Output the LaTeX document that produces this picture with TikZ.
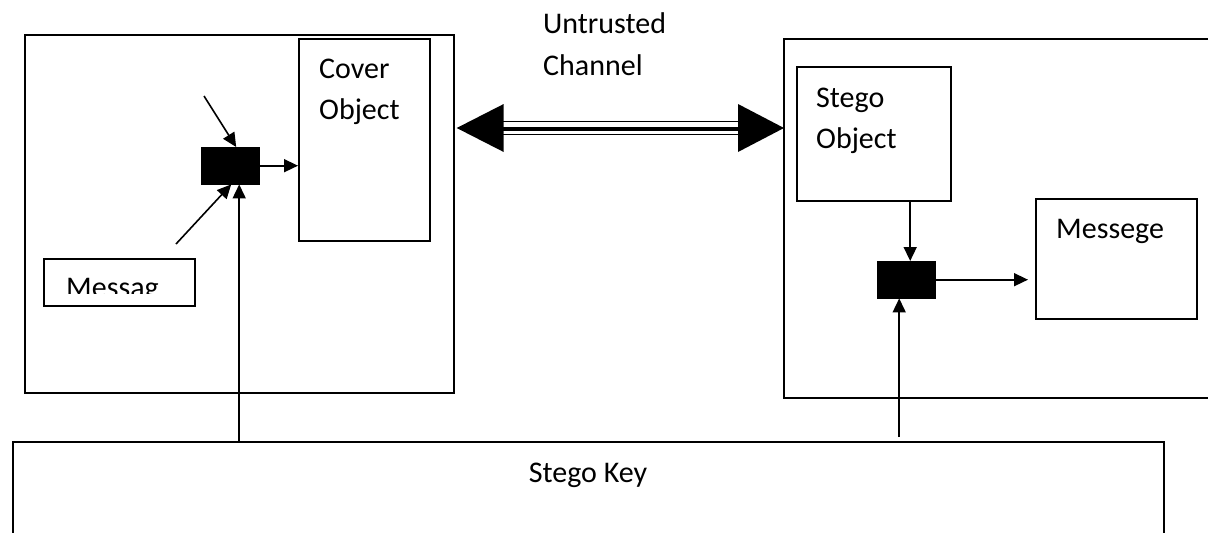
\documentclass[tikz,border=0pt]{standalone}
\usepackage{fontspec}
\setmainfont{Carlito}
\usetikzlibrary{arrows.meta,calc}
\begin{document}
\begin{tikzpicture}[x=1pt,y=-1pt,
  box/.style={draw, line width=1.7pt, inner sep=0pt, anchor=north west},
  blk/.style={fill=black, draw=black, inner sep=0pt, anchor=north west},
  arr/.style={line width=1.6pt, -{Triangle[length=14pt,width=13pt]}},
  txt/.style={anchor=base west, inner sep=0pt, font=\fontsize{30}{36}\selectfont}]
\clip (0,0) rectangle (1208,533);
% left side
\node[box, minimum width=429pt, minimum height=358pt] (outerL) at (24,34) {};
\node[box, minimum width=131pt, minimum height=202pt] (cover) at (298,38) {};
\node[txt] (coverT1) at (319,78) {Cover};
\node[txt] (coverT2) at (319,119) {Object};
\node[blk, minimum width=58pt, minimum height=37pt] (blkL) at (201,147) {};
\node[box, minimum width=151pt, minimum height=47pt] (msg) at (43,258) {};
\begin{scope}
  \clip (44,259) rectangle (193,293.5);
  \node[txt] (msgT) at (66,297) {Messag};
\end{scope}
% right side
\node[box, minimum width=440pt, minimum height=359pt] (outerR) at (783,38) {};
\node[box, minimum width=154pt, minimum height=134pt] (stegoObj) at (796,66) {};
\node[txt] (stegoT1) at (816,107) {Stego};
\node[txt] (stegoT2) at (816,148) {Object};
\node[blk, minimum width=58pt, minimum height=37pt] (blkR) at (877,261) {};
\node[box, minimum width=161pt, minimum height=120pt] (messege) at (1035,198) {};
\node[txt] (messegeT) at (1056,238) {Messege};
% key
\node[box, minimum width=1151pt, minimum height=120pt] (key) at (12,441) {};
\node[txt, anchor=base] (keyT) at (588,482) {Stego Key};
% channel label
\node[txt] (chT1) at (543,33) {Untrusted};
\node[txt] (chT2) at (543,75) {Channel};
% left arrows
\draw[arr] (blkL.east) -- (blkL.east -| cover.west);
\coordinate (p1) at (204,96);
\draw[arr] (p1) -- ([xshift=6pt]blkL.north);
\coordinate (p2) at (176,244);
\draw[arr] (p2) -- ([xshift=1pt]blkL.south);
\coordinate (kL) at ([xshift=9pt]blkL.south);
\draw[arr] (kL |- key.north) -- (kL);
% right arrows
\coordinate (sR) at ([xshift=4pt]blkR.north);
\draw[arr] (sR |- stegoObj.south) -- (sR);
\draw[arr] (blkR.east) -- ([xshift=-7pt]blkR.east -| messege.west);
\coordinate (kR) at ([xshift=-7pt]blkR.south);
\draw[arr] ([yshift=4pt]kR |- key.north) -- (kR);
% untrusted channel double arrow
\coordinate (ych) at (0,128);
\coordinate (chL) at ($(outerL.east |- ych)+(2,0)$);
\coordinate (chR) at ($(outerR.west |- ych)+(1,0)$);
\fill (chL) -- ++(47,-24) -- ++(0,48) -- cycle;
\fill (chR) -- ++(-46,-24) -- ++(0,48) -- cycle;
\draw[line width=1.8pt] ($(chL)+(46,-6.5)$) -- ($(chR)+(-45,-6.5)$);
\draw[line width=4pt] ($(chL)+(46,1)$) -- ($(chR)+(-45,1)$);
\draw[line width=1.8pt] ($(chL)+(46,6.5)$) -- ($(chR)+(-45,6.5)$);
\end{tikzpicture}
\end{document}
